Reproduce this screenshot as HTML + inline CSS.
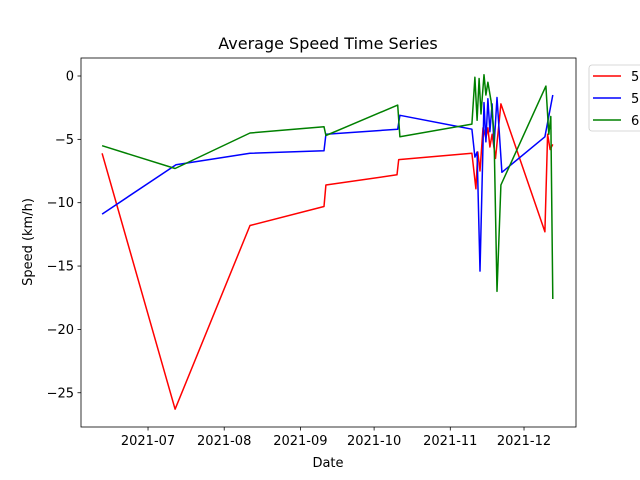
<!DOCTYPE html>
<html><head><meta charset="utf-8"><style>
html,body{margin:0;padding:0;background:#fff;width:640px;height:480px;overflow:hidden}
svg{font-family:"DejaVu Sans","Liberation Sans",sans-serif}
</style></head><body>
<svg id="chart" width="640" height="480" viewBox="0 0 640 480">
<text x="328" y="49" font-size="16" text-anchor="middle">Average Speed Time Series</text>
<g id="plot"></g>
</svg>
<script>
// days since 2021-06-01
const redDays=[11.3,41.0,71.5,101.6,102.4,131.3,132.0,161.8,163.4,164.2,165.1,166.3,167.5,168.3,169.1,170.0,171.4,173.6,191.5,192.6,193.6,194.7];
const redVals=[-6.1,-26.3,-11.8,-10.3,-8.6,-7.8,-6.6,-6.1,-8.9,-6.0,-7.5,-4.1,-4.9,-4.1,-5.6,-4.6,-6.5,-2.2,-12.3,-4.6,-5.8,-5.4];
const blueDays=[11.3,41.4,71.5,101.6,102.4,131.6,132.5,161.8,163.0,163.9,165.1,166.7,167.5,168.3,169.1,170.0,170.8,172.0,174.0,191.5,194.7];
const blueVals=[-10.9,-7.0,-6.1,-5.9,-4.6,-4.2,-3.1,-4.2,-6.4,-6.0,-15.4,-2.1,-5.2,-1.8,-4.4,-2.2,-5.6,-1.7,-7.6,-4.8,-1.5];
const greenDays=[11.3,41.0,71.5,101.6,102.4,131.6,132.5,161.8,163.0,163.9,164.7,165.5,166.7,167.5,168.3,169.6,170.8,172.0,173.6,191.9,193.1,193.9,194.7];
const greenVals=[-5.5,-7.3,-4.5,-4.0,-4.7,-2.3,-4.8,-3.8,-0.1,-3.5,-0.2,-3.0,0.1,-1.5,-0.5,-2.0,-4.5,-17.0,-8.6,-0.8,-4.6,-3.2,-17.6];
const yTicks=[0,-5,-10,-15,-20,-25];
const xTickDays=[30,61,92,122,153,183];
const xTickLabels=["2021-07","2021-08","2021-09","2021-10","2021-11","2021-12"];
const seriesNames=["5","5","6"];

const L=81,R=576,T=58,B=427;
const xS=d=>74.3+d*2.4575;
const yS=v=>76-v*12.67;
const NS="http://www.w3.org/2000/svg";
const g=document.getElementById('plot');
function mk(t,a,p){const e=document.createElementNS(NS,t);for(const k in a)e.setAttribute(k,a[k]);(p||g).appendChild(e);return e;}

const clip=mk('clipPath',{id:'c'});mk('rect',{x:L,y:T,width:R-L,height:B-T},clip);
const series=[[redDays,redVals,'#ff0000','red'],[blueDays,blueVals,'#0000ff','blue'],[greenDays,greenVals,'#008000','green']];
series.forEach(s=>{
  const pts=s[0].map((d,i)=>xS(d).toFixed(1)+','+yS(s[1][i]).toFixed(1)).join(' ');
  const pl=mk('polyline',{points:pts,fill:'none',stroke:s[2],'stroke-width':1.5,'stroke-linejoin':'round','clip-path':'url(#c)'});
  
  
});
const fr=mk('rect',{x:L,y:T,width:R-L,height:B-T,fill:'none',stroke:'#000','stroke-width':0.8});



yTicks.forEach(v=>{
  const y=yS(v);
  mk('line',{x1:L-3.5,x2:L,y1:y,y2:y,stroke:'#000','stroke-width':0.8});
  const t=mk('text',{x:L-7,y:y+4.5,'font-size':13,'text-anchor':'end'});t.textContent=v===0?'0':'\u2212'+Math.abs(v);
  
  
});
xTickDays.forEach((d,i)=>{
  const x=xS(d);
  mk('line',{x1:x,x2:x,y1:B,y2:B+3.5,stroke:'#000','stroke-width':0.8});
  const t=mk('text',{x:x,y:B+18,'font-size':13,'text-anchor':'middle'});t.textContent=xTickLabels[i];
  
  
});
const xt=mk('text',{x:328,y:467,'font-size':13,'text-anchor':'middle'});xt.textContent='Date';


const yt=mk('text',{x:32,y:242,'font-size':13,'text-anchor':'middle',transform:'rotate(-90 32 242)'});yt.textContent='Speed (km/h)';



const lg=mk('g',{});


mk('rect',{x:589,y:65,width:70,height:66,rx:3,fill:'#fff',stroke:'#ccc','stroke-width':0.8},lg);
series.forEach((s,i)=>{
  const y=76+i*22;
  const e=mk('g',{},lg);
  
  
  mk('line',{x1:593,x2:621,y1:y,y2:y,stroke:s[2],'stroke-width':1.5},e);
  const t=mk('text',{x:631,y:y+5,'font-size':13},e);t.textContent=seriesNames[i];
});
</script>
</body></html>
